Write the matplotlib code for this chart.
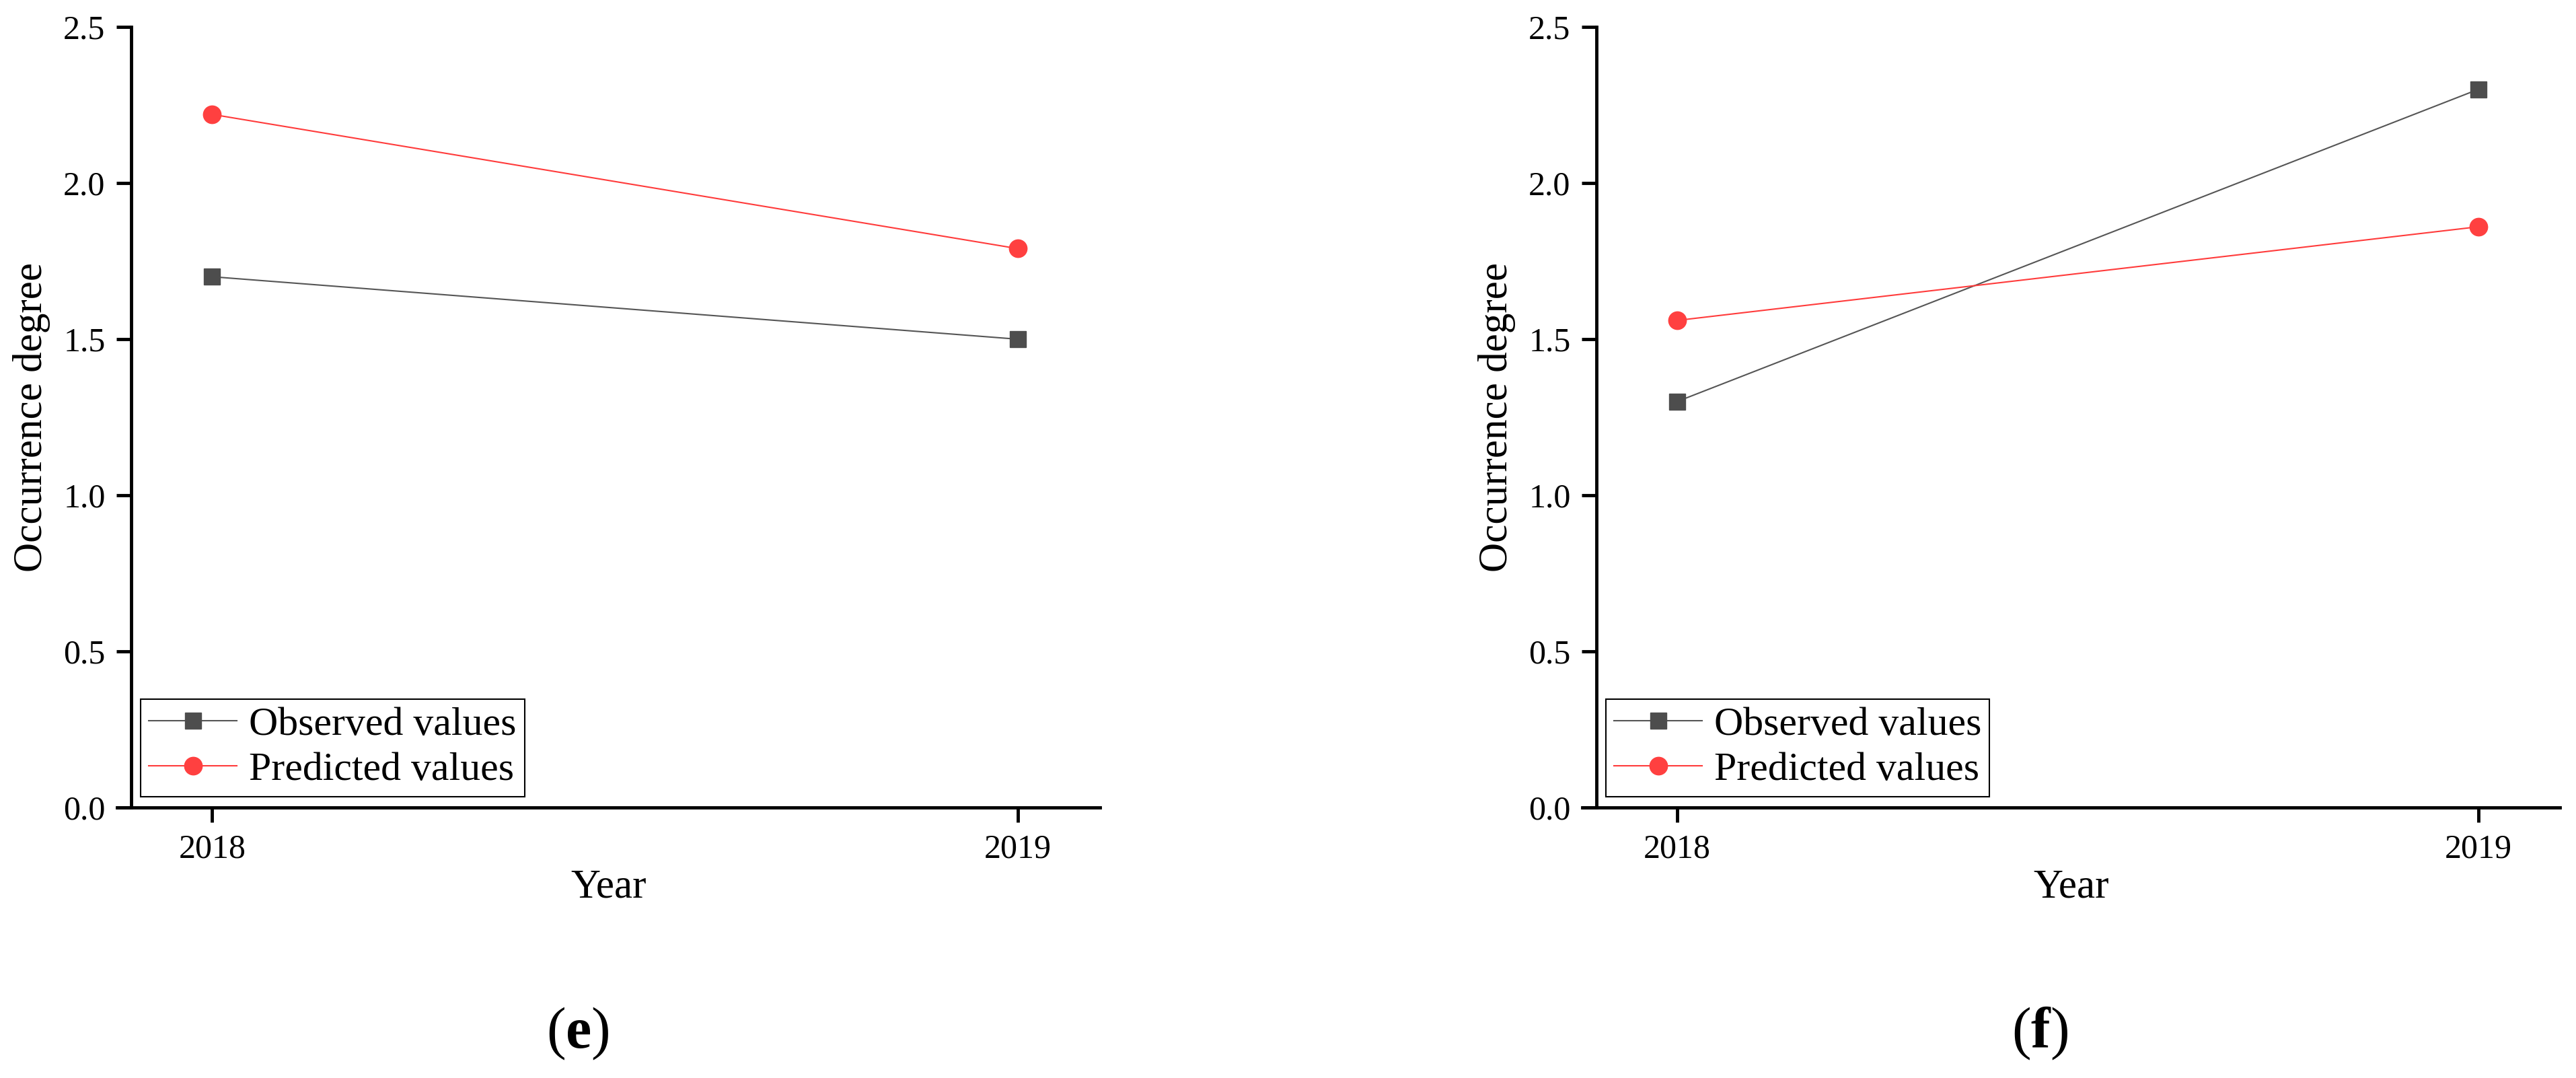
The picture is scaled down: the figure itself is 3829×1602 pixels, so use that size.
import matplotlib
matplotlib.use('Agg')
import matplotlib.pyplot as plt

# data
years = [2018, 2019]
obs_e = [1.70, 1.50]
pred_e = [2.22, 1.79]
obs_f = [1.30, 2.30]
pred_f = [1.56, 1.86]
captions = ['e', 'f']

plt.rcParams['font.family'] = ['Liberation Serif', 'DejaVu Serif']
plt.rcParams['mathtext.fontset'] = 'custom'
plt.rcParams['mathtext.rm'] = 'Liberation Serif'
plt.rcParams['mathtext.bf'] = 'Liberation Serif:bold'

fig = plt.figure(figsize=(38.3, 16.02), dpi=100)

boxes = [[0.0454, 0.2509, 0.3815, 0.7241],
         [0.6141, 0.2509, 0.3794, 0.7241]]
series = [(obs_e, pred_e), (obs_f, pred_f)]

for box, (obs, pred), cap in zip(boxes, series, captions):
    ax = fig.add_axes(box)
    ax.plot(years, obs, color='#555555', lw=1.5, marker='s', ms=17,
            mfc='#4d4d4d', mec='#4d4d4d', label='Observed values')
    ax.plot(years, pred, color='#ff3b3b', lw=1.5, marker='o', ms=19,
            mfc='#ff4040', mec='#ff4040', label='Predicted values')
    ax.set_xlim(2017.882, 2019.102)
    ax.set_ylim(0, 2.5)
    ax.set_xticks(years)
    ax.set_xticklabels([str(y) for y in years])
    ax.set_yticks([0.0, 0.5, 1.0, 1.5, 2.0, 2.5])
    ax.set_yticklabels(['0.0', '0.5', '1.0', '1.5', '2.0', '2.5'])
    ax.spines['top'].set_visible(False)
    ax.spines['right'].set_visible(False)
    ax.spines['left'].set_position(('data', 2017.9))
    for s in ['left', 'bottom']:
        ax.spines[s].set_linewidth(3.5)
    ax.tick_params(direction='out', length=16, width=3.5, labelsize=36, pad=12)
    ax.set_xlabel('Year', fontsize=44, labelpad=4)
    ax.set_ylabel('Occurrence degree', fontsize=44, labelpad=14)
    leg = ax.legend(loc='lower left', bbox_to_anchor=(0.024, 0.0138),
                    borderaxespad=0, fancybox=False, edgecolor='black',
                    framealpha=1, fontsize=43, handlelength=2.2,
                    handletextpad=0.3, borderpad=0.2, labelspacing=0.2)
    leg.get_frame().set_linewidth(1.5)
    cx = box[0] + box[2] / 2 - 0.012
    fig.text(cx, 1 - 1536 / 1602, r'($\mathbf{' + cap + '}$)', fontsize=62,
             ha='center', va='center')

plt.savefig('out.png', dpi=100)
